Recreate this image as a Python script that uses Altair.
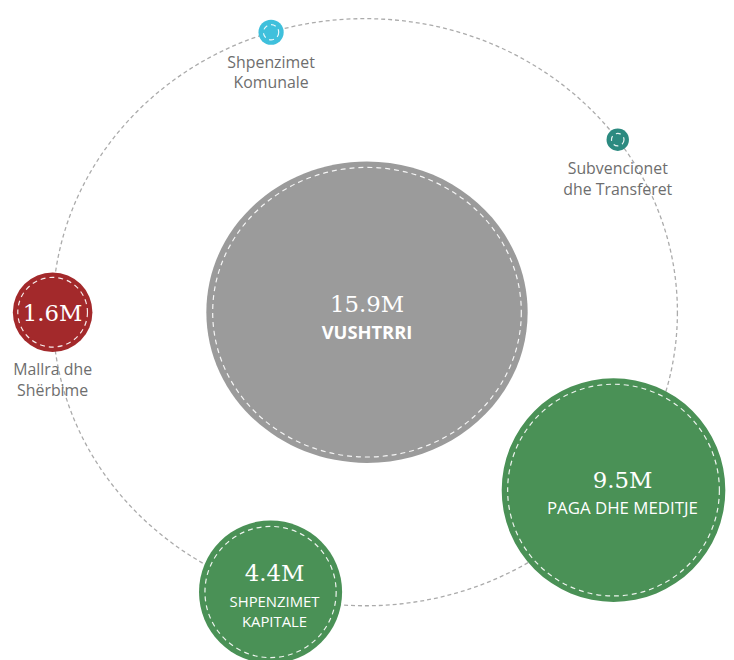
import math
import altair as alt
import pandas as pd

# ---------------- data ----------------
total_name = "VUSHTRRI"
total_value = 15.9
categories = ["Paga dhe Meditje", "Shpenzimet Kapitale", "Mallra dhe Shërbime",
              "Shpenzimet Komunale", "Subvencionet dhe Transferet"]
values = [9.5, 4.4, 1.6, 0.22, 0.18]
label_lines = [["PAGA DHE MEDITJE"], ["SHPENZIMET", "KAPITALE"], ["Mallra dhe", "Shërbime"],
               ["Shpenzimet", "Komunale"], ["Subvencionet", "dhe Transferet"]]
colors = ["#4a9156", "#4a9156", "#a3292b", "#3fc0dc", "#2c8a80"]
total_color = "#9b9b9b"

# ---------------- layout ----------------
W, H = 718, 642
X0, Y0 = 8, 8
ORBIT_C = (368, 312)
ORBIT_RX, ORBIT_RY = 315, 296
CENTER = (370, 312)
angles = [37.3, 107.6, 180, -107.5, -36]
label_mode = ["inside_l", "inside_s", "value_below", "below", "below"]
value_dy = [-9, -18, 2, None, None]
inner_dy = [[19], [10, 30], None, None, None]
text_dx = [9, 4, 0, 0, 0]
R_MAX = 152.0
EXP = 0.58
GRAY_STRETCH = 162.0 / 152.0


def r_of(v):
    return R_MAX * (v / total_value) ** EXP


def v_of(r):
    return total_value * (r / R_MAX) ** (1.0 / EXP)


def ring_inset(r):
    return 6.0 if r > 60 else 5.0


def ellipse_path(a, b):
    k = 0.5523
    f = lambda z: f"{z:.4f}"
    return (f"M{f(a)},0 C{f(a)},{f(k*b)} {f(k*a)},{f(b)} 0,{f(b)} "
            f"C{f(-k*a)},{f(b)} {f(-a)},{f(k*b)} {f(-a)},0 "
            f"C{f(-a)},{f(-k*b)} {f(-k*a)},{f(-b)} 0,{f(-b)} "
            f"C{f(k*a)},{f(-b)} {f(a)},{f(-k*b)} {f(a)},0 Z")


# circles table
circ = []
texts = []
circ.append(dict(name=total_name, value=total_value, ring=v_of(R_MAX - ring_inset(R_MAX)),
                 color=total_color, x=CENTER[0], y=CENTER[1], kind="total"))
texts.append(dict(x=CENTER[0], y=CENTER[1] - 7, text=f"{total_value}M", kind="value"))
texts.append(dict(x=CENTER[0], y=CENTER[1] + 21, text=total_name, kind="bold"))

for i, (cat, v) in enumerate(zip(categories, values)):
    t = math.radians(angles[i])
    cx = ORBIT_C[0] + ORBIT_RX * math.cos(t)
    cy = ORBIT_C[1] + ORBIT_RY * math.sin(t)
    r = r_of(v)
    circ.append(dict(name=cat, value=v, ring=v_of(max(r - ring_inset(r), 1)),
                     color=colors[i], x=cx, y=cy, kind="sat"))
    mode = label_mode[i]
    tx = cx + text_dx[i]
    if mode.startswith("inside"):
        texts.append(dict(x=tx, y=cy + value_dy[i], text=f"{v}M", kind="value"))
        for line, dy in zip(label_lines[i], inner_dy[i]):
            texts.append(dict(x=tx, y=cy + dy, text=line, kind=mode))
    else:
        if mode == "value_below":
            texts.append(dict(x=tx, y=cy + value_dy[i], text=f"{v}M", kind="value"))
        for j, line in enumerate(label_lines[i]):
            texts.append(dict(x=tx, y=cy + r + 18 + 21 * j, text=line, kind="outer"))

circ_df = pd.DataFrame(circ)
text_df = pd.DataFrame(texts)
orbit_df = pd.DataFrame([dict(x=ORBIT_C[0], y=ORBIT_C[1])])

xs = alt.Scale(domain=[X0, X0 + W], nice=False, zero=False)
ys = alt.Scale(domain=[Y0, Y0 + H], nice=False, zero=False, reverse=True)
X = alt.X("x:Q", scale=xs, axis=None)
Y = alt.Y("y:Q", scale=ys, axis=None)
size_scale = alt.Scale(type="pow", exponent=2 * EXP, domain=[0, total_value],
                       range=[0, (2 * R_MAX) ** 2])

gray_shape = ellipse_path(GRAY_STRETCH, 1.0)
orbit_shape = ellipse_path(1.0, ORBIT_RY / ORBIT_RX)

orbit = alt.Chart(orbit_df).mark_point(
    shape=orbit_shape, filled=False, stroke="#ababab", strokeWidth=1.3,
    strokeDash=[4, 3], opacity=1, size=(2 * ORBIT_RX) ** 2
).encode(x=X, y=Y)

base_c = alt.Chart(circ_df)
gray = base_c.transform_filter("datum.kind == 'total'").mark_point(
    shape=gray_shape, filled=True, opacity=1, strokeWidth=0
).encode(x=X, y=Y, size=alt.Size("value:Q", scale=size_scale, legend=None),
         color=alt.Color("color:N", scale=None))
sats = base_c.transform_filter("datum.kind == 'sat'").mark_point(
    shape="circle", filled=True, opacity=1, strokeWidth=0
).encode(x=X, y=Y, size=alt.Size("value:Q", scale=size_scale, legend=None),
         color=alt.Color("color:N", scale=None))
gray_ring = base_c.transform_filter("datum.kind == 'total'").mark_point(
    shape=gray_shape, filled=False, stroke="white", strokeWidth=1.2,
    strokeDash=[5, 4], opacity=0.9
).encode(x=X, y=Y, size=alt.Size("ring:Q", scale=size_scale, legend=None))
sat_ring = base_c.transform_filter("datum.kind == 'sat'").mark_point(
    shape="circle", filled=False, stroke="white", strokeWidth=1.2,
    strokeDash=[5, 4], opacity=0.9
).encode(x=X, y=Y, size=alt.Size("ring:Q", scale=size_scale, legend=None))

base_t = alt.Chart(text_df)


def text_layer(kind, **kw):
    return base_t.transform_filter(f"datum.kind == '{kind}'").mark_text(
        align="center", baseline="middle", **kw
    ).encode(x=X, y=Y, text="text:N")


t_value = text_layer("value", font="DejaVu Serif", fontSize=23, color="white")
t_bold = text_layer("bold", font="Open Sans", fontSize=18.5, fontWeight="bold", color="white")
t_in_l = text_layer("inside_l", font="Open Sans", fontSize=17, color="white")
t_in_s = text_layer("inside_s", font="Open Sans", fontSize=15, color="white")
t_out = text_layer("outer", font="Open Sans", fontSize=16, color="#6e6e6e")

chart = alt.layer(
    orbit, gray, sats, gray_ring, sat_ring, t_value, t_bold, t_in_l, t_in_s, t_out
).properties(
    width=W, height=H, padding=0, background="white"
).configure_view(stroke=None)

chart.save("out.html", embed_options={"renderer": "svg", "actions": False})
